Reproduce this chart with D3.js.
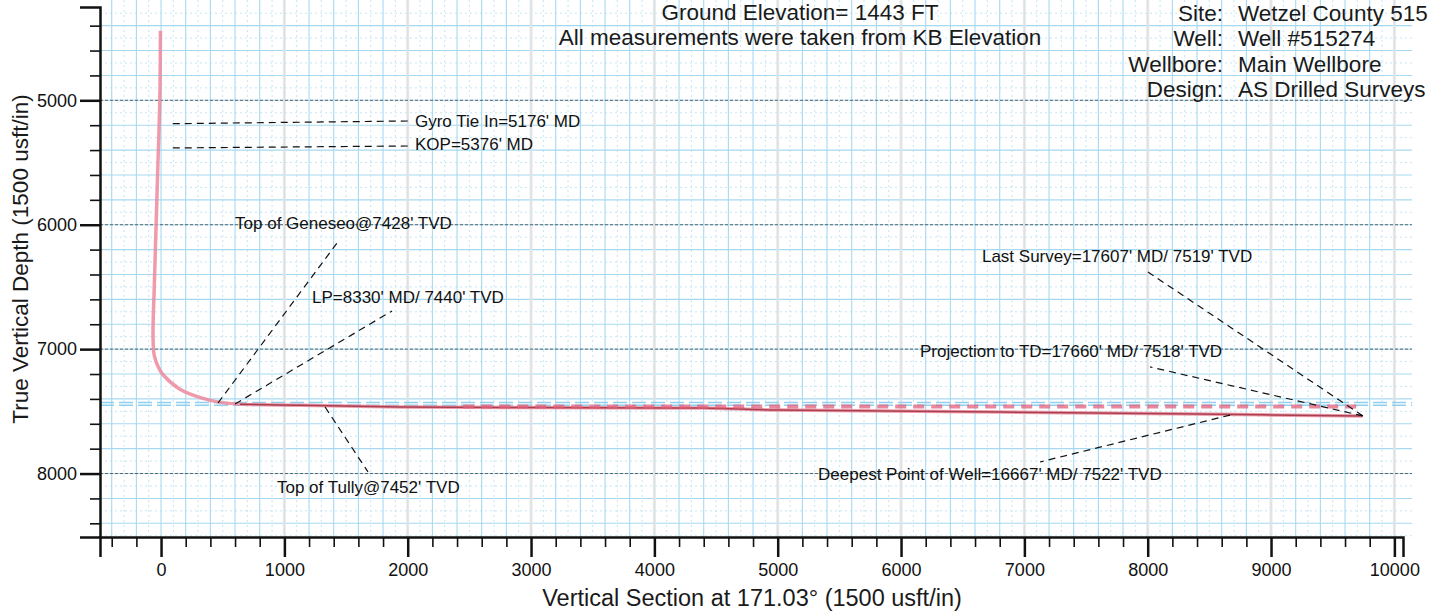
<!DOCTYPE html>
<html>
<head>
<meta charset="utf-8">
<script src="https://cdn.jsdelivr.net/npm/d3@7"></script>
<style>
  body { margin: 0; background: #fff; }
  svg { display: block; font-family: "Liberation Sans", Arial, sans-serif; }
</style>
</head>
<body>
<div id="chart"></div>
<script>
// well path as drilled (vertical section vs true vertical depth, usft)
var actualVS  = [-5, -10, -25, -40, -55, -65, -55, -20, 20, 150, 320, 480, 640, 1130, 1940, 3000, 4400, 5000, 6800, 8400, 9740]
var actualTVD = [4440, 5000, 5500, 6000, 6500, 6900, 7050, 7150, 7210, 7320, 7390, 7428, 7442, 7452, 7466, 7470, 7474, 7490, 7505, 7522, 7537]

// plan line (pink dashes along the lateral)
var planVS  = [2450, 9700]
var planTVD = [7462, 7462]

// formation tops
var topNames = ["Geneseo", "Tully"]
var topTVD = [7428, 7452]

// tick labels
var xTicks = [0, 1000, 2000, 3000, 4000, 5000, 6000, 7000, 8000, 9000, 10000]
var yTicks = [5000, 6000, 7000, 8000]

// header text
var headerLines = ["Ground Elevation= 1443 FT", "All measurements were taken from KB Elevation"]
var infoKeys = ["Site:", "Well:", "Wellbore:", "Design:"]
var infoVals = ["Wetzel County 515", "Well #515274", "Main Wellbore", "AS Drilled Surveys"]

// annotations: label, label anchor (vs, tvd), leader from (vs, tvd) to (vs, tvd)
var noteText = ["Gyro Tie In=5176' MD", "KOP=5376' MD", "Top of Geneseo@7428' TVD", "LP=8330' MD/ 7440' TVD",
                "Top of Tully@7452' TVD", "Last Survey=17607' MD/ 7519' TVD", "Projection to TD=17660' MD/ 7518' TVD",
                "Deepest Point of Well=16667' MD/ 7522' TVD"]
var noteVS  = [2059, 2059, 600, 1224, 940, 6656, 6154, 5327]
var noteTVD = [5215, 5399, 6034, 6629, 8156, 6300, 7063, 8052]
var leadFromVS  = [95, 95, 462, 600, 1330, 9745, 9745, 8668]
var leadFromTVD = [5188, 5383, 7433, 7441, 7465, 7537, 7537, 7530]
var leadToVS  = [2015, 2015, 1427, 1873, 1678, 8002, 8019, 7127]
var leadToTVD = [5166, 5367, 6147, 6693, 7987, 6380, 7143, 7907]

var width = 1434, height = 616

var svg = d3.select("#chart").append("svg")
    .attr("width", width)
    .attr("height", height)

var x = d3.scaleLinear().domain([-495, 10070]).range([100, 1403])
var y = d3.scaleLinear().domain([4250, 8510]).range([7, 537])

// grid
var grid = svg.append("g")
grid.selectAll(".vminor").data(d3.range(-400, 10070, 100).filter(d => d % 200 != 0))
  .enter().append("line")
    .attr("x1", d => x(d)).attr("x2", d => x(d))
    .attr("y1", 0).attr("y2", y(8510))
    .attr("stroke", "#c4e6f5").attr("stroke-width", 1).attr("stroke-dasharray", "2,3")
grid.selectAll(".hminor").data(d3.range(4300, 8510, 100).filter(d => d % 200 != 0))
  .enter().append("line")
    .attr("x1", x(-495)).attr("x2", 1412)
    .attr("y1", d => y(d)).attr("y2", d => y(d))
    .attr("stroke", "#c4e6f5").attr("stroke-width", 1).attr("stroke-dasharray", "2,3")
grid.selectAll(".vmajor").data(d3.range(-400, 10070, 200))
  .enter().append("line")
    .attr("x1", d => x(d)).attr("x2", d => x(d))
    .attr("y1", 0).attr("y2", y(8510))
    .attr("stroke", "#a6d9f1").attr("stroke-width", 1.1)
grid.selectAll(".hmajor").data(d3.range(4400, 8510, 200))
  .enter().append("line")
    .attr("x1", x(-495)).attr("x2", 1412)
    .attr("y1", d => y(d)).attr("y2", d => y(d))
    .attr("stroke", "#a6d9f1").attr("stroke-width", 1.1)

// thousand lines
grid.selectAll(".vthou").data(xTicks.slice(1))
  .enter().append("line")
    .attr("x1", d => x(d)).attr("x2", d => x(d))
    .attr("y1", 0).attr("y2", y(8510))
    .attr("stroke", "#e4e4e4").attr("stroke-width", 3).attr("opacity", 0.8)
grid.selectAll(".hthou").data(yTicks)
  .enter().append("line")
    .attr("x1", x(-495)).attr("x2", 1412)
    .attr("y1", d => y(d)).attr("y2", d => y(d))
    .attr("stroke", "#333").attr("stroke-width", 1).attr("stroke-dasharray", "3,2")
    .attr("opacity", 0.7)

// formation tops
svg.append("g").selectAll("line").data(topTVD)
  .enter().append("line")
    .attr("x1", x(-495)).attr("x2", 1412)
    .attr("y1", d => y(d)).attr("y2", d => y(d))
    .attr("stroke", "#8fd0ee").attr("stroke-width", 1.5).attr("stroke-dasharray", "14,5")

var pathLine = d3.line().x(d => x(d[0])).y(d => y(d[1])).curve(d3.curveCatmullRom)

// as drilled path
var actual = actualVS.map((v, i) => [v, actualTVD[i]])
svg.append("path")
    .datum(actual)
    .attr("d", pathLine)
    .attr("fill", "none")
    .attr("stroke", "#ec8a9c")
    .attr("stroke-width", 3.5)
    .attr("opacity", 0.85)
svg.append("path")
    .datum(actual.filter(d => d[0] > 500))
    .attr("d", pathLine)
    .attr("fill", "none")
    .attr("stroke", "#a8404f")
    .attr("stroke-width", 1.5)

// plan
var plan = planVS.map((v, i) => [v, planTVD[i]])
svg.append("path")
    .datum(plan)
    .attr("d", d3.line().x(d => x(d[0])).y(d => y(d[1])))
    .attr("fill", "none")
    .attr("stroke", "#e2607c")
    .attr("stroke-width", 4)
    .attr("stroke-dasharray", "11,7")
    .attr("opacity", 0.75)

// axes
var xAxis = svg.append("g")
    .attr("transform", "translate(0," + y(8510) + ")")
    .call(d3.axisBottom(x).tickValues(xTicks).tickSize(20).tickPadding(6).tickFormat(d3.format("d")))
var xMinor = svg.append("g")
    .attr("transform", "translate(0," + y(8510) + ")")
    .call(d3.axisBottom(x).tickValues(d3.range(-400, 10070, 200).filter(d => d % 1000 != 0)).tickSize(10).tickFormat(""))
var yAxis = svg.append("g")
    .attr("transform", "translate(" + x(-495) + ",0)")
    .call(d3.axisLeft(y).tickValues(yTicks).tickSize(20).tickPadding(3).tickFormat(d3.format("d")))
var yMinor = svg.append("g")
    .attr("transform", "translate(" + x(-495) + ",0)")
    .call(d3.axisLeft(y).tickValues(d3.range(4400, 8510, 200).filter(d => d % 1000 != 0)).tickSize(10).tickFormat(""))

svg.selectAll(".domain").attr("stroke", "#111").attr("stroke-width", 2.5)
svg.selectAll(".tick line").attr("stroke", "#111").attr("stroke-width", 1.6)
xAxis.selectAll(".tick line").attr("stroke-width", 2.5)
yAxis.selectAll(".tick line").attr("stroke-width", 2.5)
svg.selectAll(".tick text")
    .attr("font-family", "Liberation Sans, Arial, sans-serif")
    .attr("font-size", 18)
    .attr("fill", "#111")
xMinor.select(".domain").remove()
yMinor.select(".domain").remove()

// axis titles
svg.append("text")
    .attr("x", 752).attr("y", 606)
    .attr("text-anchor", "middle")
    .attr("font-size", 23.5)
    .attr("fill", "#1a1a1a")
    .text("Vertical Section at 171.03° (1500 usft/in)")
svg.append("text")
    .attr("transform", "translate(28,259) rotate(-90)")
    .attr("text-anchor", "middle")
    .attr("font-size", 22.5)
    .attr("fill", "#1a1a1a")
    .text("True Vertical Depth (1500 usft/in)")

// header
svg.selectAll(".hdr").data(headerLines)
  .enter().append("text")
    .attr("x", 800).attr("y", (d, i) => 20 + i * 25)
    .attr("text-anchor", "middle")
    .attr("font-size", 22.5)
    .attr("fill", "#1a1a1a")
    .text(d => d)
svg.selectAll(".ikey").data(infoKeys)
  .enter().append("text")
    .attr("x", 1223).attr("y", (d, i) => 21 + i * 25.3)
    .attr("text-anchor", "end")
    .attr("font-size", 22.5)
    .attr("fill", "#1a1a1a")
    .text(d => d)
svg.selectAll(".ival").data(infoVals)
  .enter().append("text")
    .attr("x", 1238).attr("y", (d, i) => 21 + i * 25.3)
    .attr("font-size", 22.5)
    .attr("fill", "#1a1a1a")
    .text(d => d)

// annotations
var notes = svg.append("g")
notes.selectAll("line").data(noteText)
  .enter().append("line")
    .attr("x1", (d, i) => x(leadFromVS[i])).attr("y1", (d, i) => y(leadFromTVD[i]))
    .attr("x2", (d, i) => x(leadToVS[i])).attr("y2", (d, i) => y(leadToTVD[i]))
    .attr("stroke", "#111")
    .attr("stroke-width", 1.2)
    .attr("stroke-dasharray", "7,5")
notes.selectAll("text").data(noteText)
  .enter().append("text")
    .attr("x", (d, i) => x(noteVS[i])).attr("y", (d, i) => y(noteTVD[i]))
    .attr("font-size", 17)
    .attr("fill", "#111")
    .text(d => d)
</script>
</body>
</html>
